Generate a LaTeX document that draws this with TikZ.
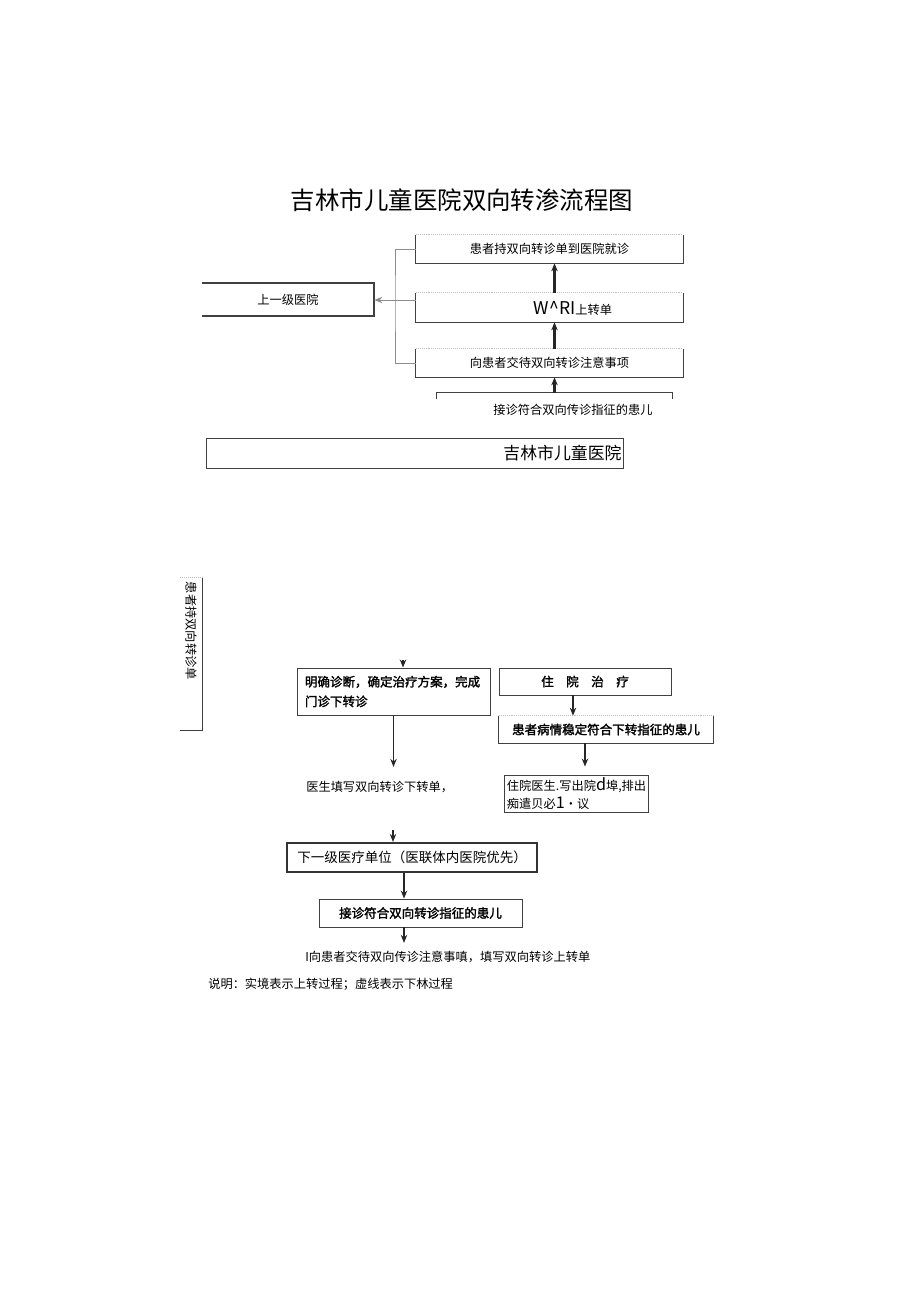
\documentclass[tikz,border=0pt]{standalone}
\usepackage{fontspec}
\setmainfont{Noto Sans CJK SC}
\newfontfamily\cjkbold{Noto Sans CJK SC}[FakeBold=2]
\usetikzlibrary{arrows.meta}

\begin{document}
\begin{tikzpicture}[x=0.025cm, y=-0.025cm, >={Stealth[length=0.2cm,width=0.16cm]},
    cell/.style={inner sep=0pt, font=\fontsize{8.7}{14}\selectfont},
    heavy/.style={font=\cjkbold\fontsize{8.9}{14}\selectfont},
    frame/.style={draw=black!75, line width=0.6pt},
    rim/.style={draw=black!75, line width=0.6pt},
    faint/.style={draw=black!25, densely dotted, line width=0.4pt},
    uparr/.style={->, line width=1.5pt, black!85},
    downarr/.style={->, line width=1.2pt, black!85},
    link/.style={color=black!45, line width=0.7pt}]
    \useasboundingbox (0,0) rectangle (920,1301);

    \node[font=\fontsize{17.4}{20}\selectfont] (title) at (462,200) {吉林市儿童医院双向转渗流程图};

    % upward referral (top part)
    \node[cell, minimum width=6.675cm, minimum height=0.7cm] (b1) at (549.5,249) {患者持双向转诊单到医院就诊};
    \node[cell, minimum width=6.675cm, minimum height=0.725cm] (b2) at (549.5,307.5) {};
    \node[cell] (t2) at (573,308) {{\fontsize{12.5}{14}\selectfont W\textasciicircum RI}上转单};
    \node[cell, minimum width=6.675cm, minimum height=0.7cm] (b3) at (549.5,363) {向患者交待双向转诊注意事项};
    \node[cell, minimum width=5.875cm, minimum height=0.75cm] (b4) at (554.5,408) {};
    \node[cell] (t4) at (573,410) {接诊符合双向传诊指征的患儿};

    \foreach \b in {b1,b2,b3} {
        \draw[rim] (\b.north west) -- (\b.south west) -- (\b.south east) -- (\b.north east);
        \draw[faint] (\b.north west) -- (\b.north east);
    }
    \draw[rim] ([yshift=-0.15cm]b4.north west) -- (b4.north west) -- (b4.north east) -- ([yshift=-0.15cm]b4.north east);

    \draw[uparr] (b4.north) -- (b4.north |- b3.south);
    \draw[uparr] (b3.north -| b4.north) -- (b2.south -| b4.north);
    \draw[uparr] (b2.north -| b4.north) -- (b1.south -| b4.north);

    \node[cell, minimum width=4.3cm, minimum height=0.825cm] (upper) at (288,299.5) {上一级医院};
    \draw[rim, line width=1.4pt] (upper.north west) -- (upper.north east) -- (upper.south east) -- (upper.south west);

    \coordinate (sp) at (395,300);
    \draw[link] (b1.west) -| (sp) |- (b3.west);
    \draw[link] (sp) -- (sp -| b2.west);
    \draw[link, ->] (sp) -- (sp -| upper.east);

    \node[cell, frame, minimum width=10.425cm, minimum height=0.75cm, text width=10.35cm, align=right,
        font=\fontsize{12}{14}\selectfont] (jl) at (414.5,453) {吉林市儿童医院};

    \node[cell, rotate=-90, minimum width=3.8cm, minimum height=0.55cm, text width=3.6cm, align=left] (pt) at (191,654) {患者持双向转诊单};
    \draw[rim] (pt.south east) -- (pt.north east) -- (pt.north west);
    \draw[faint] (pt.north west) -- (pt.south west);

    % downward referral (lower part)
    \node[cell, heavy, frame, minimum width=4.825cm, minimum height=1.175cm, text width=4.425cm, align=left] (mz) at (393.5,691.5) {明确诊断，确定治疗方案，完成\\门诊下转诊};
    \node[cell, heavy, frame, minimum width=4.3cm, minimum height=0.675cm] (zy) at (585,681.5) {住　院　治　疗};
    \node[cell, heavy, minimum width=5.35cm, minimum height=0.675cm] (wd) at (606,729.5) {患者病情稳定符合下转指征的患儿};
    \draw[rim] (wd.north west) -- (wd.south west) -- (wd.south east) -- (wd.north east);
    \draw[faint] (wd.north west) -- (wd.north east);
    \node[cell, frame, minimum width=3.6cm, minimum height=0.925cm, text width=3.45cm, align=left,
        font=\fontsize{8.7}{12.8}\selectfont] (cy) at (576,793.5) {住院医生.写出院{\fontsize{11.5}{12}\selectfont d}埠,排出\\痴遣贝必{\fontsize{11.5}{12}\selectfont 1}•议};
    \node[cell, anchor=west] (tx) at (306,787) {医生填写双向转诊下转单，};

    \node[cell, draw=black!80, line width=1.5pt, minimum width=6.25cm, minimum height=0.725cm,
        font=\fontsize{9.6}{12}\selectfont] (xy) at (412,857.5) {下一级医疗单位（医联体内医院优先）};
    \node[cell, heavy, frame, minimum width=5.075cm, minimum height=0.7cm] (jz) at (420.5,913) {接诊符合双向转诊指征的患儿};
    \node[cell, anchor=west] (jd) at (305,957) {I向患者交待双向传诊注意事嗔，填写双向转诊上转单};
    \node[cell, anchor=west] (sm) at (208,984) {说明：实境表示上转过程；虚线表示下林过程};

    \coordinate (in1) at (403,660);
    \draw[downarr] (in1) -- (in1 |- mz.north);
    \draw[downarr, shorten >=0.35cm] (mz.south) -- (mz.south |- tx.north);
    \draw[downarr] ([xshift=-0.3cm]zy.south) -- ([xshift=-0.3cm]zy.south |- wd.north);
    \draw[downarr, shorten >=0.2cm] ([xshift=-0.525cm]wd.south) -- ([xshift=-0.525cm]wd.south |- cy.north);

    \coordinate (in2) at (393,830);
    \draw[downarr] (in2) -- (in2 |- xy.north);
    \draw[downarr] ([xshift=-0.2cm]xy.south) -- ([xshift=-0.2cm]xy.south |- jz.north);
    \draw[downarr, shorten >=0.2cm] ([xshift=-0.2cm]xy.south |- jz.south) -- ([xshift=-0.2cm]xy.south |- jd.north);
\end{tikzpicture}
\end{document}
